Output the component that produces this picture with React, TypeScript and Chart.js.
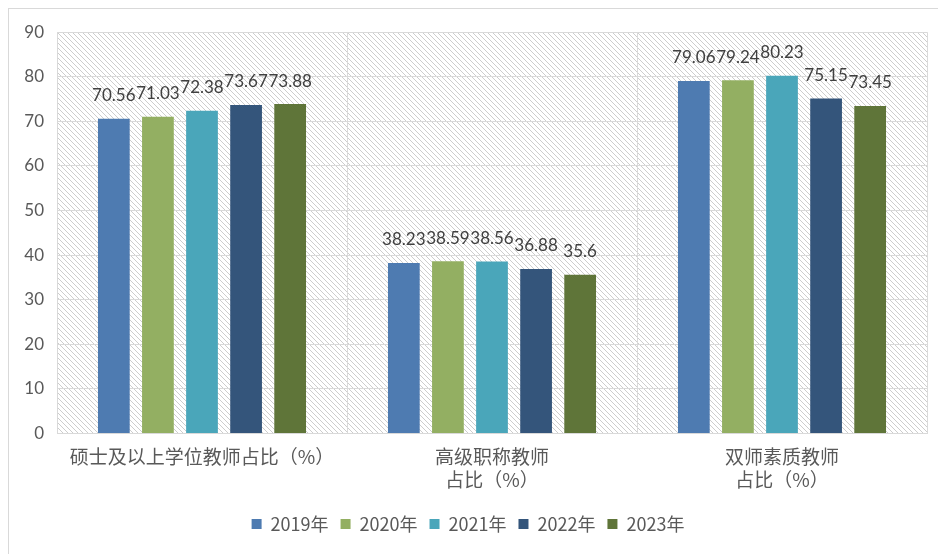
import React, { useEffect, useRef } from "react";
import { Chart, registerables } from "chart.js";

Chart.register(...registerables);

const categories: string[][] = [
  ["硕士及以上学位教师占比（%）"],
  ["高级职称教师", "占比（%）"],
  ["双师素质教师", "占比（%）"],
];
const seriesNames = ["2019年", "2020年", "2021年", "2022年", "2023年"];
const v2019 = [70.56, 38.23, 79.06];
const v2020 = [71.03, 38.59, 79.24];
const v2021 = [72.38, 38.56, 80.23];
const v2022 = [73.67, 36.88, 75.15];
const v2023 = [73.88, 35.6, 73.45];
const colors = ["#4E7BB1", "#93AF62", "#4AA6BA", "#34557B", "#5F7539"];
const yTicks = { min: 0, max: 90, step: 10 };

const NUM_FONT = "Lato, 'Noto Sans CJK SC', sans-serif";
const CJK_FONT = "'Noto Sans CJK SC', sans-serif";

function makePattern(ctx: CanvasRenderingContext2D) {
  const c = document.createElement("canvas");
  const s = 5;
  c.width = s;
  c.height = s;
  const p = c.getContext("2d")!;
  p.fillStyle = "#ffffff";
  p.fillRect(0, 0, s, s);
  p.strokeStyle = "#cdcdcd";
  p.lineWidth = 1;
  p.beginPath();
  p.moveTo(-1, -1);
  p.lineTo(s + 1, s + 1);
  p.moveTo(-1, s - 1);
  p.lineTo(1, s + 1);
  p.moveTo(s - 1, -1);
  p.lineTo(s + 1, 1);
  p.stroke();
  return ctx.createPattern(c, "repeat");
}

const hatchPlugin = {
  id: "hatch",
  beforeDraw(chart: any) {
    const { ctx, chartArea } = chart;
    if (!chartArea) return;
    const pat = makePattern(ctx);
    ctx.save();
    ctx.fillStyle = pat as any;
    ctx.fillRect(chartArea.left, chartArea.top, chartArea.right - chartArea.left, chartArea.bottom - chartArea.top);
    ctx.restore();
  },
};

const labelPlugin = {
  id: "valueLabels",
  afterDatasetsDraw(chart: any) {
    const { ctx } = chart;
    ctx.save();
    ctx.font = `17px ${NUM_FONT}`;
    ctx.fillStyle = "#404040";
    ctx.textAlign = "center";
    ctx.textBaseline = "middle";
    chart.data.datasets.forEach((ds: any, i: number) => {
      const meta = chart.getDatasetMeta(i);
      meta.data.forEach((el: any, j: number) => {
        ctx.fillText(String(ds.data[j]), el.x, el.y - 23);
      });
    });
    ctx.restore();
  },
};

export default function App() {
  const ref = useRef<HTMLCanvasElement | null>(null);
  useEffect(() => {
    if (!ref.current) return;
    const all = [v2019, v2020, v2021, v2022, v2023];
    const chart = new Chart(ref.current, {
      type: "bar",
      data: {
        labels: categories as any,
        datasets: all.map((d, i) => ({
          label: seriesNames[i],
          data: d,
          backgroundColor: colors[i],
          borderWidth: 0,
          barPercentage: 0.72,
          categoryPercentage: 0.76,
        })),
      },
      options: {
        animation: false,
        responsive: false,
        maintainAspectRatio: false,
        layout: { padding: { top: 14, right: 12, left: 0, bottom: 12 } },
        plugins: {
          tooltip: { enabled: false },
          legend: {
            position: "bottom",
            labels: {
              boxWidth: 10,
              boxHeight: 10,
              padding: 12,
              color: "#595959",
              font: { size: 18, family: CJK_FONT },
            },
          },
        },
        scales: {
          x: {
            grid: { color: "#d9d9d9", offset: true, drawTicks: false },
            border: { color: "#d9d9d9" },
            ticks: {
              color: "#595959",
              font: { size: 19, family: CJK_FONT, lineHeight: 1.2 },
              padding: 12,
              maxRotation: 0,
              autoSkip: false,
            },
          },
          y: {
            min: yTicks.min,
            max: yTicks.max,
            grid: { color: "#d9d9d9", drawTicks: false },
            border: { color: "#d9d9d9" },
            ticks: {
              stepSize: yTicks.step,
              color: "#595959",
              font: { size: 17, family: NUM_FONT },
              padding: 13,
            },
            afterFit(scale: any) {
              scale.width = 48;
            },
          },
        },
      },
      plugins: [hatchPlugin, labelPlugin],
    });
    return () => chart.destroy();
  }, []);
  return (
    <div
      style={{
        width: 930,
        height: 546,
        borderTop: "1px solid #d9d9d9",
        borderLeft: "1px solid #d9d9d9",
        borderRight: "1px solid #d9d9d9",
        background: "#fff",
      }}
    >
      <canvas ref={ref} width={930} height={546} />
    </div>
  );
}
